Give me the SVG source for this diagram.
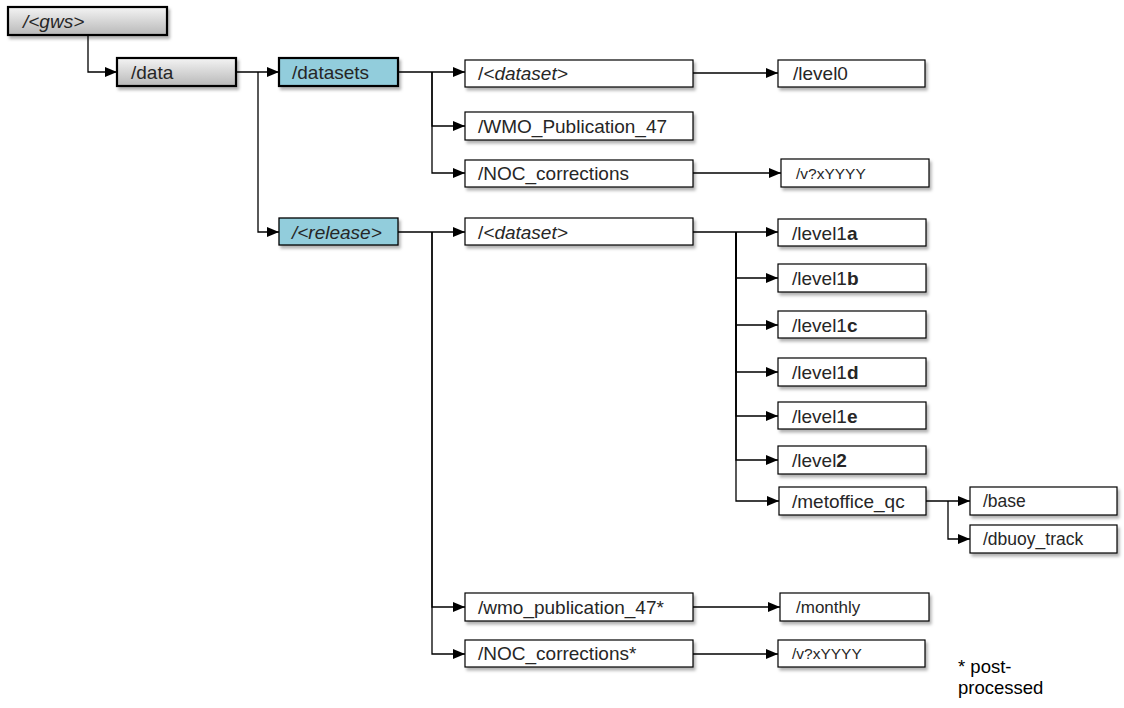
<svg xmlns="http://www.w3.org/2000/svg" width="1124" height="708" viewBox="0 0 1124 708">
<defs>
<linearGradient id="grey" x1="0" y1="0" x2="0" y2="1">
<stop offset="0" stop-color="#f4f4f4"/>
<stop offset="1" stop-color="#b8b8b8"/>
</linearGradient>
<filter id="sh" x="-10%" y="-30%" width="125%" height="180%">
<feDropShadow dx="2" dy="3" stdDeviation="1.5" flood-color="#000" flood-opacity="0.3"/>
</filter>
<marker id="arr" viewBox="0 0 12 10" refX="12" refY="5" markerWidth="12" markerHeight="10" markerUnits="userSpaceOnUse" orient="auto">
<path d="M0,0 L12,5 L0,10 z" fill="#000"/>
</marker>
</defs>
<style>
.box{fill:#fff;stroke:#000;stroke-width:1.2;filter:url(#sh)}
.gbox{fill:url(#grey);stroke:#000;stroke-width:2.2;filter:url(#sh)}
.bbox{fill:#92cddc;stroke:#000;stroke-width:2.2;filter:url(#sh)}
.bbox2{fill:#92cddc;stroke:#000;stroke-width:1.3;filter:url(#sh)}
text{font-family:"Liberation Sans",Arial,sans-serif;font-size:19px;fill:#262626}
.sm{font-size:15.5px}
.mo{font-size:17px}
.md{font-size:17.5px}
.it{font-style:italic}
.b{font-weight:bold}
.note{font-size:18.5px;fill:#000}
#connectors path{fill:none;stroke:#000;stroke-width:1.3;marker-end:url(#arr)}
</style>
<rect width="1124" height="708" fill="#fff"/>
<g id="connectors">
<path d="M88,35 V72 H117" stroke="#444"/>
<path d="M236,72 H279"/>
<path d="M258,72 V232 H279"/>
<path d="M398,72 H465"/>
<path d="M432,72 V126 H465"/>
<path d="M432,72 V173 H465"/>
<path d="M693,73 H778"/>
<path d="M693,173 H781"/>
<path d="M398,232 H465"/>
<path d="M432,232 V607 H465"/>
<path d="M432,232 V654 H465"/>
<path d="M693,232 H778"/>
<path d="M736,232 V278 H778"/>
<path d="M736,232 V325 H778"/>
<path d="M736,232 V372 H778"/>
<path d="M736,232 V416 H778"/>
<path d="M736,232 V460 H778"/>
<path d="M736,232 V501 H779"/>
<path d="M926,501 H970"/>
<path d="M948,501 V539 H970"/>
<path d="M693,607 H780"/>
<path d="M693,654 H778"/>
</g>
<g id="gws"><rect class="gbox" x="8" y="7" width="159" height="28"/><text x="23" y="28"><tspan class="it">/&lt;gws&gt;</tspan></text></g>
<g id="data"><rect class="gbox" x="117" y="58" width="119" height="28"/><text x="131" y="79">/data</text></g>
<g id="datasets"><rect class="bbox" x="279" y="58" width="119" height="28"/><text x="292" y="79">/datasets</text></g>
<g id="release"><rect class="bbox2" x="279" y="218" width="119" height="27"/><text x="292" y="239" class="it">/&lt;release&gt;</text></g>
<g id="dataset1"><rect class="box" x="465" y="60" width="228" height="27"/><text x="478" y="80">/<tspan class="it">&lt;dataset&gt;</tspan></text></g>
<g id="wmo47"><rect class="box" x="465" y="112" width="228" height="28"/><text x="478" y="133">/WMO_Publication_47</text></g>
<g id="noc"><rect class="box" x="465" y="160" width="228" height="27"/><text x="478" y="180">/NOC_corrections</text></g>
<g id="level0"><rect class="box" x="778" y="60" width="147" height="27"/><text x="793" y="80">/level0</text></g>
<g id="vx1"><rect class="box" x="781" y="159" width="148" height="28"/><text x="796" y="179" class="sm">/v?xYYYY</text></g>
<g id="dataset2"><rect class="box" x="465" y="218" width="228" height="27"/><text x="478" y="239">/<tspan class="it">&lt;dataset&gt;</tspan></text></g>
<g id="level1a"><rect class="box" x="778" y="219" width="148" height="27"/><text x="792" y="240">/level1<tspan class="b">a</tspan></text></g>
<g id="level1b"><rect class="box" x="778" y="264" width="148" height="28"/><text x="792" y="285">/level1<tspan class="b">b</tspan></text></g>
<g id="level1c"><rect class="box" x="778" y="311" width="148" height="27"/><text x="792" y="332">/level1<tspan class="b">c</tspan></text></g>
<g id="level1d"><rect class="box" x="778" y="358" width="148" height="28"/><text x="792" y="379">/level1<tspan class="b">d</tspan></text></g>
<g id="level1e"><rect class="box" x="778" y="402" width="148" height="27"/><text x="792" y="423">/level1<tspan class="b">e</tspan></text></g>
<g id="level2"><rect class="box" x="778" y="446" width="148" height="28"/><text x="792" y="467">/level<tspan class="b">2</tspan></text></g>
<g id="metoffice"><rect class="box" x="779" y="487" width="147" height="28"/><text x="792" y="508">/metoffice_qc</text></g>
<g id="base"><rect class="box" x="970" y="487" width="147" height="28"/><text x="983" y="507" class="md">/base</text></g>
<g id="dbuoy"><rect class="box" x="970" y="525" width="147" height="28"/><text x="983" y="545" class="md">/dbuoy_track</text></g>
<g id="wmo47s"><rect class="box" x="465" y="593" width="228" height="28"/><text x="478" y="614">/wmo_publication_47*</text></g>
<g id="monthly"><rect class="box" x="780" y="593" width="149" height="28"/><text x="796" y="613" class="mo">/monthly</text></g>
<g id="nocs"><rect class="box" x="465" y="640" width="228" height="27"/><text x="478" y="660">/NOC_corrections*</text></g>
<g id="vx2"><rect class="box" x="778" y="640" width="147" height="27"/><text x="792" y="659" class="sm">/v?xYYYY</text></g>
<g id="note"><text class="note" x="958" y="673">* post-</text><text class="note" x="958" y="694">processed</text></g>
</svg>
